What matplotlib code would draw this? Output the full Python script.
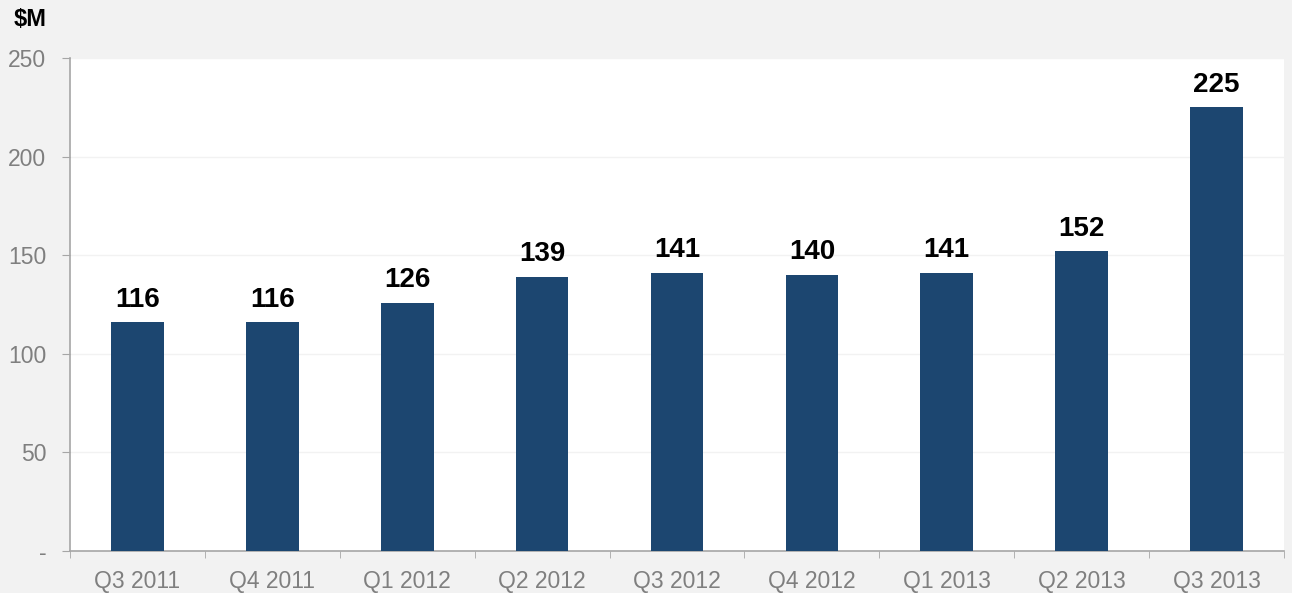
import matplotlib
matplotlib.use("Agg")
import matplotlib.pyplot as plt
import numpy as np

plt.rcParams['font.family'] = ['Liberation Sans', 'DejaVu Sans']

quarters = ["Q3 2011", "Q4 2011", "Q1 2012", "Q2 2012", "Q3 2012",
            "Q4 2012", "Q1 2013", "Q2 2013", "Q3 2013"]
revenue = [116, 116, 126, 139, 141, 140, 141, 152, 225]
y_ticks = [0, 50, 100, 150, 200, 250]
y_tick_labels = ["-", "50", "100", "150", "200", "250"]

fig = plt.figure(figsize=(12.92, 5.93), dpi=100, facecolor="#f2f2f2")
ax = fig.add_axes([70 / 1292, 42 / 593, 1214 / 1292, 493 / 593])
ax.set_facecolor("white")

x = np.arange(len(quarters))
ax.bar(x, revenue, width=0.39, color="#1c4670", zorder=3)

for xi, v in zip(x, revenue):
    ax.annotate(str(v), (xi, v), xytext=(0, 7), textcoords="offset points",
                ha="center", va="bottom", fontsize=20, fontweight="bold",
                color="black", zorder=4)

ax.set_xlim(-0.5, len(quarters) - 0.5)
ax.set_ylim(0, 250)

ax.set_yticks(y_ticks)
ax.set_yticklabels(y_tick_labels)
ax.set_xticks(x)
ax.set_xticklabels(quarters)
ax.set_xticks(np.arange(len(quarters) + 1) - 0.5, minor=True)

ax.tick_params(axis="x", which="major", length=0, pad=14,
               labelsize=16.5, labelcolor="#7f7f7f")
ax.tick_params(axis="x", which="minor", length=5, color="#a6a6a6",
               direction="out")
ax.tick_params(axis="y", which="major", length=6, color="#a6a6a6",
               pad=11, labelsize=16.5, labelcolor="#7f7f7f")

ax.grid(axis="y", color="#f2f2f2", linewidth=1, zorder=0)

for side in ("top", "right"):
    ax.spines[side].set_visible(False)
for side in ("left", "bottom"):
    ax.spines[side].set_color("#a6a6a6")
    ax.spines[side].set_linewidth(1.2)

fig.text(14 / 1292, 1 - 19 / 593, "$M", fontsize=17, fontweight="bold",
         ha="left", va="center", color="black")

fig.savefig("out.png", dpi=100, facecolor=fig.get_facecolor())
